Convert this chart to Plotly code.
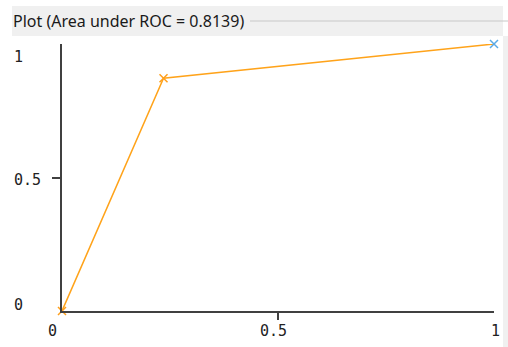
import plotly.graph_objects as go

# ---- data ----
fpr = [0.0, 0.235, 1.0]
tpr = [0.0, 0.872, 1.0]
marker_colors = ["#ff9f1c", "#ff9f1c", "#5aa9e6"]
auc_text = "Plot (Area under ROC = 0.8139)"
x_tick_vals = [0, 0.5, 1]
x_tick_text = ["0", "0.5", "1"]
y_tick_vals = [0, 0.5, 1]
y_tick_text = ["0", "0.5", "1"]

W, H = 508, 347
L, R, T, B = 62, 494, 44, 311  # plot area in pixels


def px(x):
    return (x - L) / (R - L)


def py(y):
    return (B - y) / (B - T)


fig = go.Figure()
fig.add_trace(go.Scatter(
    x=fpr, y=tpr, mode="lines",
    line=dict(color="#ffa31a", width=1.5),
    hoverinfo="skip", cliponaxis=False, showlegend=False,
))
fig.add_trace(go.Scatter(
    x=fpr, y=tpr, mode="markers",
    marker=dict(symbol="x-thin", size=8, color=marker_colors,
                line=dict(width=1.5, color=marker_colors)),
    cliponaxis=False, showlegend=False,
))

shapes = [
    dict(type="rect", xref="paper", yref="paper", x0=px(12), x1=px(503), y0=py(36), y1=py(6),
         fillcolor="#f0f0f0", line=dict(width=0), layer="below"),
    dict(type="line", xref="paper", yref="paper", x0=px(250), x1=px(508), y0=py(21), y1=py(21),
         line=dict(color="#c8c8c8", width=1)),
    dict(type="rect", xref="paper", yref="paper", x0=px(503), x1=px(508), y0=py(347), y1=py(36),
         fillcolor="#f0f0f0", line=dict(width=0), layer="below"),
]

annotations = [
    dict(text=auc_text, xref="paper", yref="paper", x=px(11), y=py(21),
         xanchor="left", yanchor="middle", showarrow=False,
         font=dict(family="Noto Sans", size=16, color="#1a1a1a")),
]

tick_font = dict(family="DejaVu Sans Mono", size=15, color="#222222")
x_label_px = [52, 273, 495]
y_label_px = [305, 180, 57]
for v, t, xp in zip(x_tick_vals, x_tick_text, x_label_px):
    annotations.append(dict(text=t, xref="paper", yref="paper", x=px(xp), y=py(331),
                            xanchor="center", yanchor="middle", showarrow=False, font=tick_font))
for v, t, yp in zip(y_tick_vals, y_tick_text, y_label_px):
    annotations.append(dict(text=t, xref="paper", yref="paper", x=px(12), y=py(yp),
                            xanchor="left", yanchor="middle", showarrow=False, font=tick_font))

fig.update_layout(
    width=W, height=H,
    margin=dict(l=L, r=W - R, t=T, b=H - B, pad=0),
    paper_bgcolor="white", plot_bgcolor="white",
    shapes=shapes, annotations=annotations,
    xaxis=dict(range=[0, 1], showgrid=False, zeroline=False, showline=True,
               linecolor="#404040", linewidth=1.5, ticks="outside", tickvals=[0.5],
               ticklen=7, tickwidth=1.5, tickcolor="#404040", showticklabels=False),
    yaxis=dict(range=[0, 1], showgrid=False, zeroline=False, showline=True,
               linecolor="#404040", linewidth=1.5, ticks="outside", tickvals=[0.5],
               ticklen=8, tickwidth=1.5, tickcolor="#404040", showticklabels=False),
)

fig.write_html("out.html", config={"displayModeBar": False},
               post_script="document.body.style.margin='0';document.body.style.overflow='hidden';")
